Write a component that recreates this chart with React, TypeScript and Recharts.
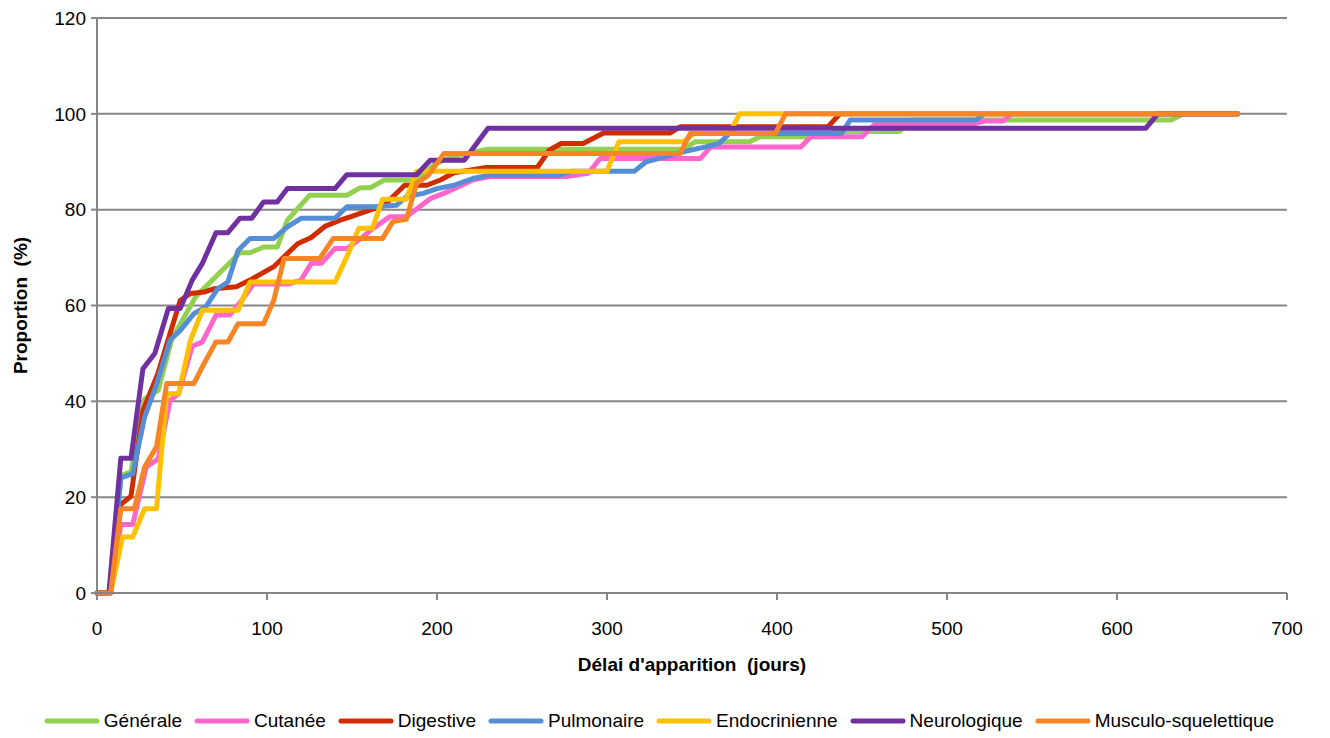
import React from "react";
import {
  LineChart,
  Line,
  XAxis,
  YAxis,
  CartesianGrid,
  Legend,
  Label,
} from "recharts";

// Courbes cumulées : [délai (jours), proportion (%)]
const generale: [number, number][] = [
  [0, 0], [8, 0], [14, 24.5], [20, 25.3], [28, 40.5], [36, 42.3], [44, 53], [58, 61.8],
  [84, 71], [90, 71], [98, 72.2], [106, 72.2], [112, 77.8], [125, 83], [147, 83],
  [155, 84.6], [161, 84.6], [169, 86.2], [188, 86.2], [198, 89.3], [208, 91], [230, 92.6],
  [345, 92.6], [352, 94.2], [384, 94.2], [390, 95.2], [428, 95.2], [435, 96.3], [472, 96.3],
  [479, 98.7], [632, 98.7], [639, 100], [671, 100],
];

const cutanee: [number, number][] = [
  [0, 0], [8, 0], [14, 14.3], [21, 14.3], [29, 26.3], [36, 28], [43, 40.2], [48, 41.6],
  [56, 51.5], [62, 52.4], [70, 58], [78, 58], [85, 61], [92, 64.5], [113, 64.5],
  [120, 65.3], [126, 68.8], [132, 68.8], [140, 71.9], [147, 71.9], [156, 74.2], [161, 75.7],
  [172, 78.5], [182, 78.5], [196, 82.3], [204, 83.4], [214, 85], [221, 86.2], [231, 86.9],
  [276, 86.9], [289, 87.6], [296, 90.7], [355, 90.7], [361, 93.1], [414, 93.1], [420, 95.2],
  [450, 95.2], [458, 98], [517, 98], [522, 98.5], [533, 98.5], [538, 100], [671, 100],
];

const digestive: [number, number][] = [
  [0, 0], [8, 0], [14, 18.5], [20, 20.2], [27, 38], [36, 46], [43, 54.2], [49, 61.1],
  [55, 62.5], [63, 62.8], [69, 63.5], [82, 63.9], [90, 65.3], [104, 68.1], [118, 72.9],
  [126, 74.2], [134, 76.5], [143, 77.8], [149, 78.5], [157, 79.5], [169, 80.9], [174, 82.7],
  [181, 85.1], [194, 85.1], [202, 86.2], [210, 87.7], [229, 88.8], [259, 88.8], [266, 92.4],
  [273, 93.8], [286, 93.8], [298, 96], [337, 96], [343, 97.3], [430, 97.3], [437, 100],
  [671, 100],
];

const pulmonaire: [number, number][] = [
  [0, 0], [8, 0], [14, 24], [21, 24.9], [28, 36.7], [35, 43.5], [43, 52.8], [49, 54.8],
  [57, 58.3], [64, 59.7], [71, 63.5], [77, 64.9], [83, 71.5], [90, 74], [104, 74],
  [112, 76.4], [120, 78.2], [140, 78.2], [147, 80.6], [163, 80.6], [176, 80.9], [182, 82.7],
  [192, 83.4], [200, 84.4], [210, 85.1], [221, 86.5], [231, 87.2], [272, 87.2], [279, 88],
  [316, 88], [323, 90], [331, 90.7], [345, 92.1], [358, 93.1], [366, 93.8], [372, 95.9],
  [438, 95.9], [443, 98.7], [517, 98.7], [522, 100], [671, 100],
];

const endocrinienne: [number, number][] = [
  [0, 0], [8, 0], [15, 11.7], [21, 11.7], [28, 17.6], [35, 17.6], [41, 41.6], [48, 41.6],
  [55, 52.8], [62, 59], [83, 59], [90, 64.9], [140, 64.9], [147, 70.2], [154, 76.1],
  [162, 76.1], [168, 82.2], [182, 82.2], [188, 88], [300, 88], [307, 94.2], [345, 94.2],
  [351, 95.9], [372, 95.9], [378, 100], [671, 100],
];

const neurologique: [number, number][] = [
  [0, 0], [7, 0], [14, 28.1], [20, 28.1], [27, 46.8], [34, 50], [42, 59.4], [49, 59.4],
  [56, 65.3], [62, 68.8], [70, 75.2], [77, 75.2], [84, 78.2], [91, 78.2], [98, 81.6],
  [106, 81.6], [112, 84.4], [140, 84.4], [147, 87.3], [188, 87.3], [196, 90.3], [216, 90.3],
  [230, 97], [617, 97], [624, 100], [671, 100],
];

const musculo: [number, number][] = [
  [0, 0], [8, 0], [14, 17.6], [22, 17.6], [28, 26.3], [35, 30.5], [41, 43.7], [57, 43.7],
  [63, 47.9], [70, 52.4], [77, 52.4], [83, 56.2], [98, 56.2], [104, 61.1], [110, 69.8],
  [131, 69.8], [139, 74], [168, 74], [174, 77.5], [182, 78], [188, 85.5], [195, 87.2],
  [204, 91.7], [343, 91.7], [349, 95.9], [399, 95.9], [405, 100], [671, 100],
];

const xTicks = [0, 100, 200, 300, 400, 500, 600, 700];
const yTicks = [0, 20, 40, 60, 80, 100, 120];

const series = [
  { name: "Générale", color: "#92D050", points: generale },
  { name: "Cutanée", color: "#FF66CC", points: cutanee },
  { name: "Digestive", color: "#D12B00", points: digestive },
  { name: "Pulmonaire", color: "#558ED5", points: pulmonaire },
  { name: "Endocrinienne", color: "#FFC000", points: endocrinienne },
  { name: "Neurologique", color: "#7030A0", points: neurologique },
  { name: "Musculo-squelettique", color: "#F68525", points: musculo },
];

const FONT = "'Liberation Sans', Arial, sans-serif";
const GRID = "#868686";

const renderLegend = () => (
  <div
    style={{
      display: "flex",
      justifyContent: "center",
      alignItems: "center",
      height: 30,
      fontFamily: FONT,
      fontSize: 19,
      color: "#000",
    }}
  >
    {series.map((s) => (
      <div key={s.name} style={{ display: "flex", alignItems: "center", marginRight: 12 }}>
        <svg width={56} height={10}>
          <line x1={3} y1={5} x2={53} y2={5} stroke={s.color} strokeWidth={5} strokeLinecap="round" />
        </svg>
        <span style={{ marginLeft: 4 }}>{s.name}</span>
      </div>
    ))}
  </div>
);

const App: React.FC = () => {
  return (
    <div
      style={{
        position: "absolute",
        left: 0,
        top: 0,
        width: 1330,
        height: 738,
        background: "#fff",
        fontFamily: FONT,
      }}
    >
      <LineChart width={1330} height={738} margin={{ top: 18, right: 43, bottom: 2, left: 0 }}>
        <CartesianGrid vertical={false} stroke={GRID} strokeWidth={2} />
        <XAxis
          dataKey="x"
          type="number"
          domain={[0, 700]}
          ticks={xTicks}
          height={113}
          tickSize={7}
          tickMargin={22}
          axisLine={{ stroke: GRID, strokeWidth: 2 }}
          tickLine={{ stroke: GRID, strokeWidth: 2 }}
          tick={{ fill: "#000", fontSize: 19, fontFamily: FONT }}
        >
          <Label
            content={(props: any) => {
              const vb = props.viewBox || {};
              return (
                <text
                  x={vb.x + vb.width / 2}
                  y={vb.y + 78}
                  textAnchor="middle"
                  fontSize={19}
                  fontWeight="bold"
                  fontFamily={FONT}
                  fill="#000"
                >
                  {"Délai d'apparition\u00A0 (jours)"}
                </text>
              );
            }}
          />
        </XAxis>
        <YAxis
          type="number"
          domain={[0, 120]}
          ticks={yTicks}
          width={97}
          tickSize={6}
          tickMargin={5}
          axisLine={{ stroke: GRID, strokeWidth: 2 }}
          tickLine={{ stroke: GRID, strokeWidth: 2 }}
          tick={{ fill: "#000", fontSize: 19, fontFamily: FONT }}
        >
          <Label
            content={(props: any) => {
              const vb = props.viewBox || {};
              const cy = vb.y + vb.height / 2;
              return (
                <text
                  x={27}
                  y={cy}
                  transform={`rotate(-90 27 ${cy})`}
                  textAnchor="middle"
                  fontSize={19}
                  fontWeight="bold"
                  fontFamily={FONT}
                  fill="#000"
                >
                  {"Proportion\u00A0 (%)"}
                </text>
              );
            }}
          />
        </YAxis>
        <Legend
          verticalAlign="bottom"
          height={30}
          content={renderLegend}
          wrapperStyle={{ left: 0, width: 1330 }}
        />
        {series.map((s) => (
          <Line
            key={s.name}
            name={s.name}
            data={s.points.map(([x, y]) => ({ x, y }))}
            dataKey="y"
            type="linear"
            stroke={s.color}
            strokeWidth={5}
            strokeLinejoin="round"
            strokeLinecap="round"
            dot={false}
            activeDot={false}
            isAnimationActive={false}
          />
        ))}
      </LineChart>
    </div>
  );
};

export default App;
